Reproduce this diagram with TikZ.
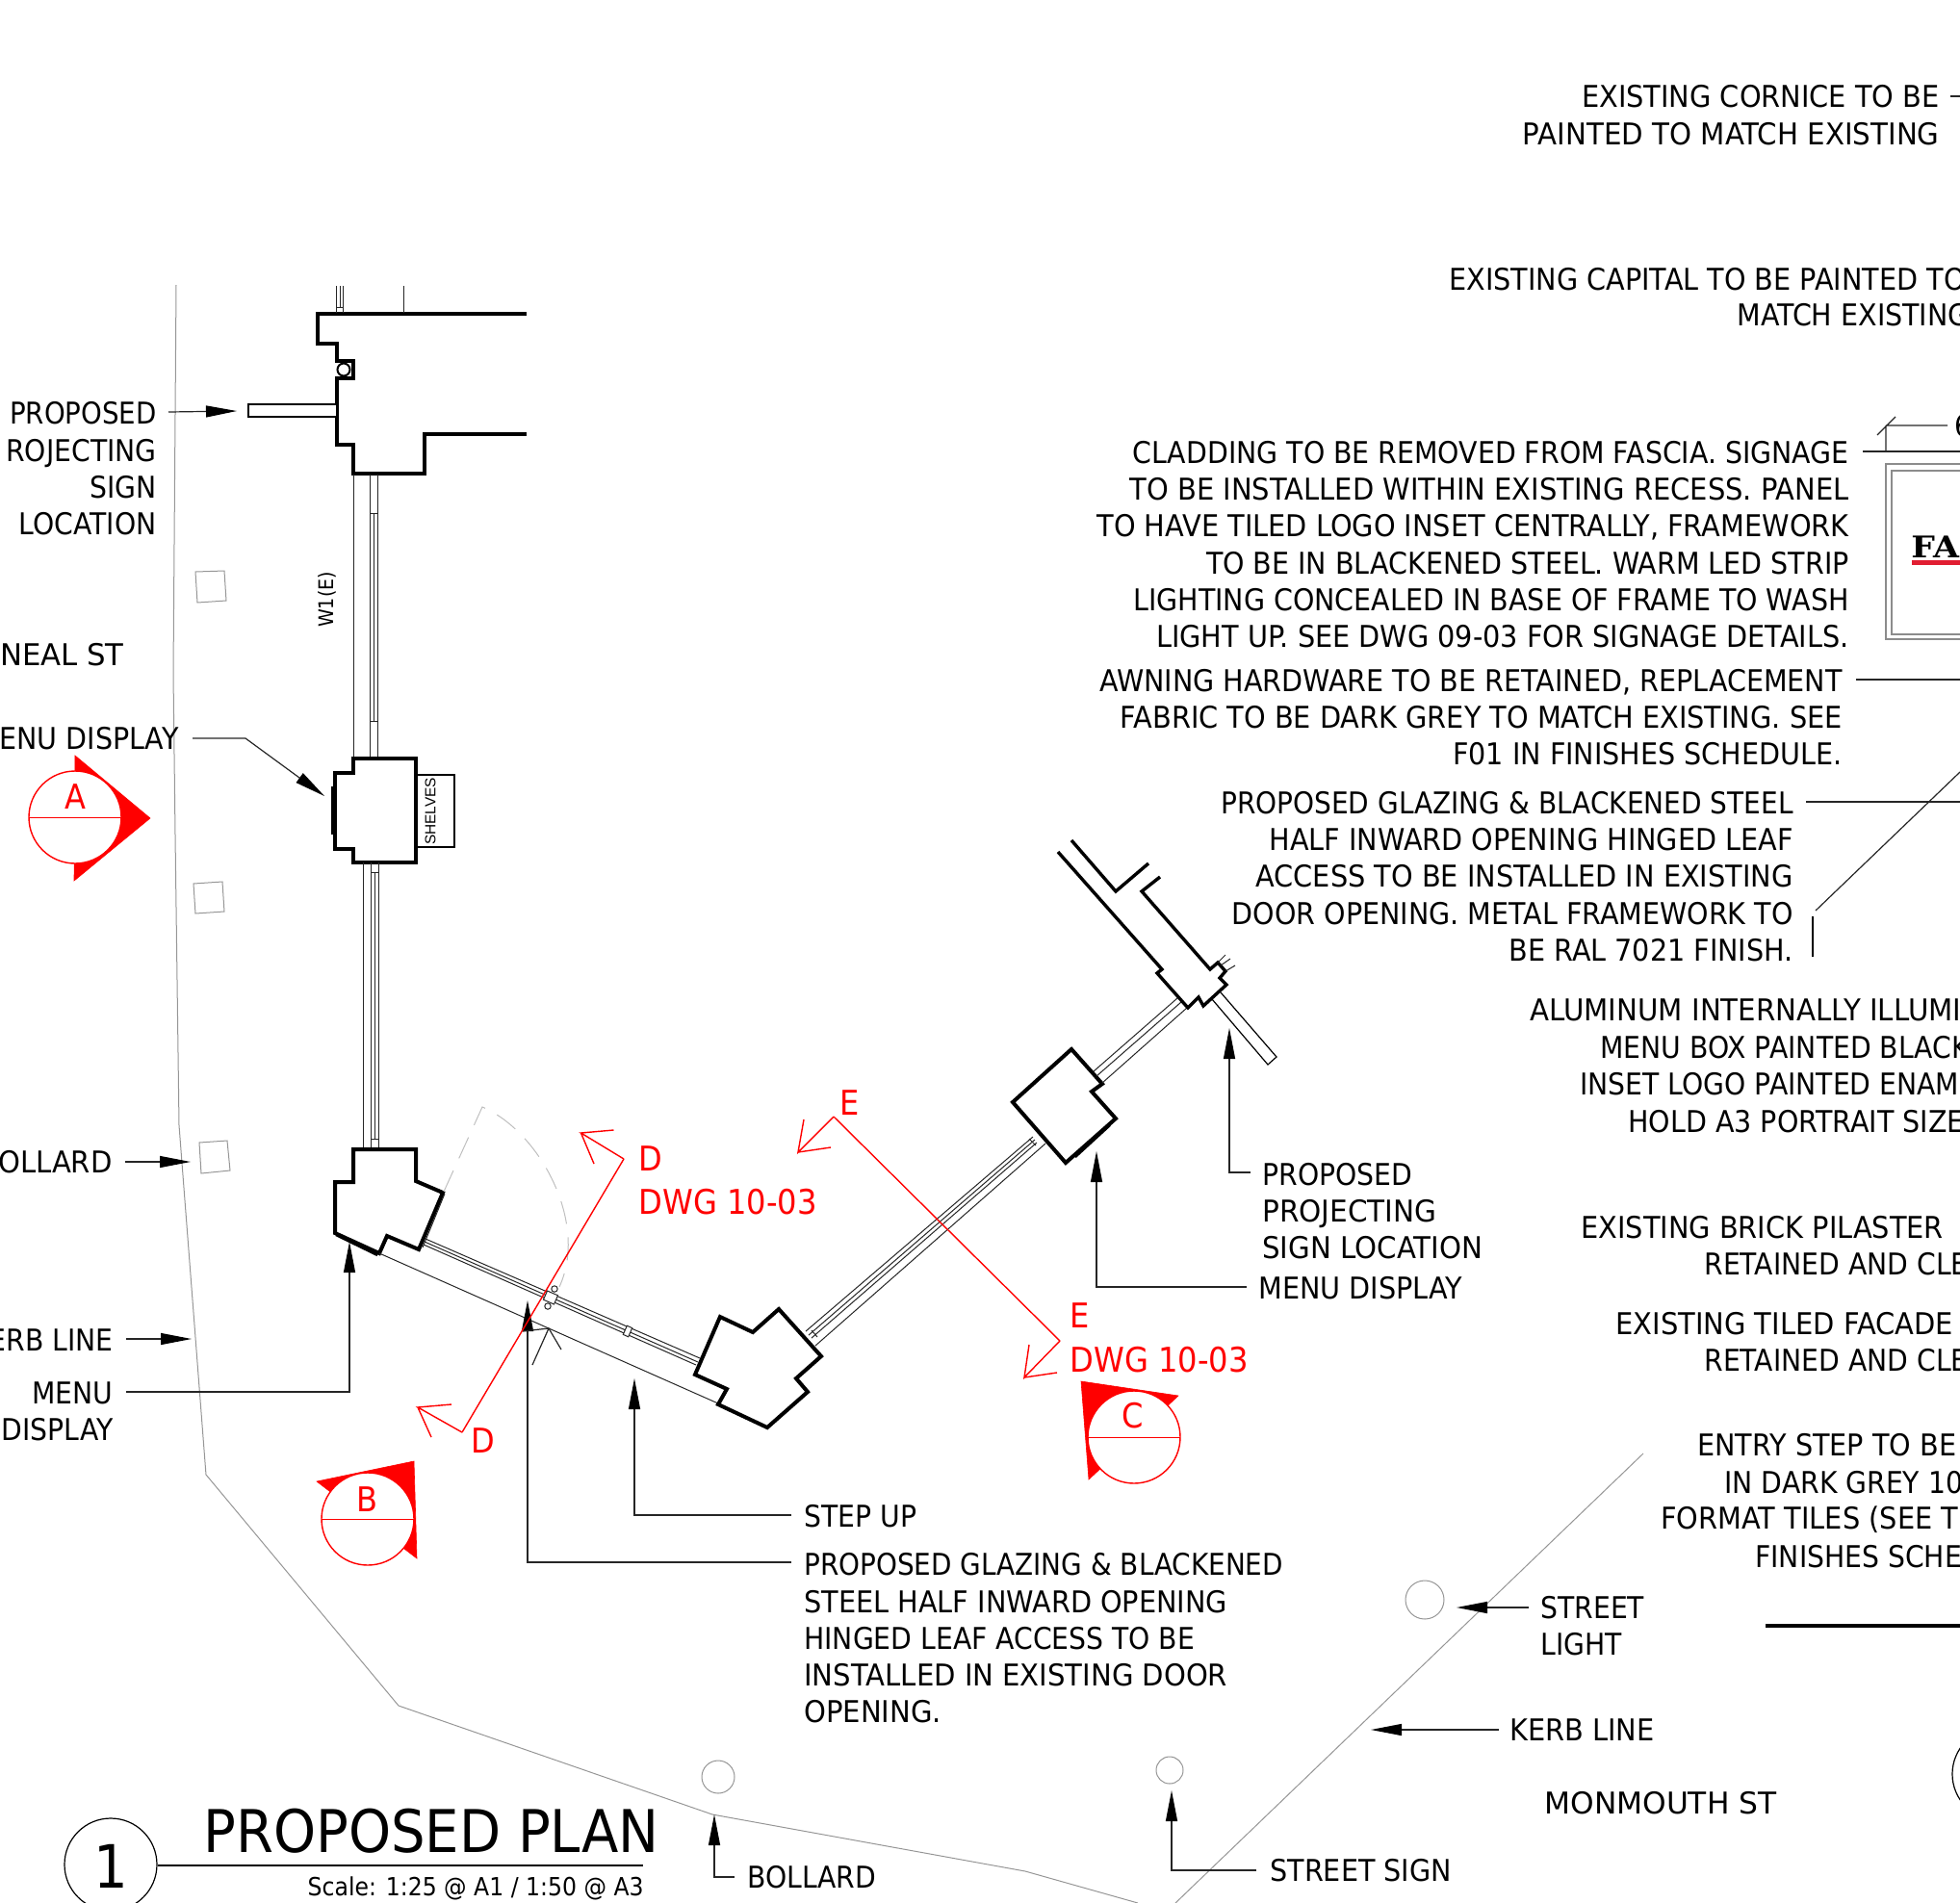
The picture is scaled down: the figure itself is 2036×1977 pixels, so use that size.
\documentclass[tikz,border=0pt]{standalone}
\usepackage{fontspec}
\setmainfont[FakeStretch=0.905]{DejaVu Sans}
\newfontfamily\arl{Liberation Sans}
\newfontfamily\lgf[FakeStretch=1.12]{DejaVu Serif}
\usetikzlibrary{arrows.meta}
\definecolor{secred}{RGB}{255,0,0}
\definecolor{kerb}{RGB}{150,150,150}
\definecolor{logored}{RGB}{225,30,50}
\newcommand\sx[2]{\scalebox{#1}[1]{#2}}
\tikzset{
  wall/.style={line width=2pt,line join=miter},
  thin/.style={line width=0.6pt},
  glaze/.style={line width=0.5pt,draw=black!85},
  kerbline/.style={line width=0.5pt,draw=kerb},
  leader/.style={line width=0.6pt,draw=black!85},
  lead/.style={leader,-{Triangle[length=16pt,width=6pt,color=black]}},
  sec/.style={line width=0.7pt,draw=secred},
  secfill/.style={fill=secred,draw=secred,line width=0.3pt},
  secbub/.style={fill=white,draw=secred,line width=0.7pt},
  lbR/.style={inner sep=0pt,anchor=east,align=right,font=\fontsize{15.6}{19.15}\selectfont},
  lbL/.style={inner sep=0pt,anchor=west,align=left,font=\fontsize{15.6}{19.15}\selectfont},
  redtx/.style={inner sep=0pt,text=secred,font=\fontsize{17.7}{21}\selectfont},
}
\begin{document}
\begin{tikzpicture}[x=0.5pt,y=-0.5pt]
\useasboundingbox (0,0) rectangle (2036,1977);
\clip (0,0) rectangle (2036,1977);
% kerbs
\draw[kerbline] (183,296) -- (180,700) -- (182,867) -- (186,1169) -- (214,1532) -- (414,1772) -- (740,1885) -- (1065,1944) -- (1182,1977);
\draw[kerbline] (1707,1510) -- (1221,1977);
% bollards, street furniture
\draw[kerbline] (203,594) -- (233,593) -- (235,624) -- (205,626) -- cycle;
\draw[kerbline] (201,918) -- (231,916) -- (233,947) -- (203,949) -- cycle;
\draw[kerbline] (207,1187) -- (236,1185) -- (239,1216) -- (209,1219) -- cycle;
\draw[kerbline] (746,1846) circle (17);
\draw[kerbline] (1215,1839) circle (14);
\draw[kerbline] (1480,1662) circle (20);
% top return wall
\draw[wall] (547,326) -- (330,326) -- (330,357) -- (350,357) -- (350,375) -- (367,375) -- (367,393) -- (350,393) -- (350,462) -- (367,462) -- (367,492) -- (441,492) -- (441,451) -- (547,451);
\draw[line width=1pt,fill=white] (357,384) circle (6.5);
\draw[thin,fill=white] (349,420) -- (258,420) -- (258,433) -- (349,433);
\draw[glaze] (349.5,297) -- (349.5,325) (353,297) -- (353,319) (356.5,297) -- (356.5,325) (349.5,319) -- (356.5,319);
\draw[glaze] (419,297) -- (419,325);
% first glazing run
\draw[glaze] (367,493) -- (367,787);
\draw[glaze] (384.5,493) -- (384.5,787) (392.5,493) -- (392.5,787) (388.5,533) -- (388.5,749) (384.5,533) -- (392.5,533) (384.5,749) -- (392.5,749);
% pier 1
\draw[wall] (367,788) -- (432,788) -- (432,896) -- (367,896) -- (367,882) -- (348,882) -- (348,803) -- (367,803) -- cycle;
\draw[line width=1.2pt] (345,817) -- (345,867);
\draw[thin] (432,805) -- (472,805) -- (472,880) -- (432,880);
\node[rotate=90,inner sep=0pt,font=\arl\fontsize{7.7}{9}\selectfont] (shelves) at (447,843) {SHELVES};
\node[rotate=90,inner sep=0pt,font=\fontsize{10.5}{12}\selectfont] (w1e) at (340,623) {W1(E)};
% second glazing run
\draw[glaze] (377.5,896) -- (377.5,1193) (385,896) -- (385,1193) (393,896) -- (393,1193) (389,906) -- (389,1183) (385,906) -- (393,906) (385,1183) -- (393,1183);
% pier 2
\draw[wall] (367,1194) -- (432,1194) -- (432,1227) -- (460,1239) -- (435,1298) -- (402,1284) -- (394,1302) -- (348,1281) -- (348,1228) -- (367,1228) -- cycle;
\draw[line width=1.2pt] (349,1283) -- (392,1304);
\draw[glaze] (462,1240) -- (439,1296);
% door swing
\draw[line width=0.5pt,draw=black!25,dash pattern=on 12pt off 7pt] (461,1238) -- (501,1150) .. controls (560,1175) and (612,1270) .. (581,1337);
% glazing on angled front
\draw[glaze] (442,1287) -- (727,1411) (441,1290) -- (725,1415) (440,1293) -- (723,1418);
\draw[glaze] (394,1302) -- (746,1458);
\draw[glaze,fill=white] (575.5,1355) -- (579.5,1345.8) -- (568.5,1341) -- (564.5,1350.2) -- cycle;
\draw[glaze,fill=white] (652.7,1388.8) -- (656.7,1379.6) -- (651.3,1377.2) -- (647.3,1386.4) -- cycle;
\draw[glaze] (576,1339) circle (3.2) (569,1357) circle (3.2);
% pier 3
\draw[wall] (748,1368) -- (782,1384) -- (809,1360) -- (853,1409) -- (827,1432) -- (839,1446) -- (797,1483) -- (746,1459) -- (755,1443) -- (722,1428) -- cycle;
\draw[glaze] (837,1383) -- (1073,1181) (840,1387) -- (1075,1184) (843,1390) -- (1077,1187) (847,1398) -- (1086,1188);
\draw[glaze] (843,1382) -- (849,1389) (1069,1183) -- (1076,1190);
% pier 4
\draw[wall] (1113,1090) -- (1145,1126) -- (1134,1134) -- (1159,1162) -- (1107,1208) -- (1052,1145) -- cycle;
\draw[line width=1.2pt] (1117,1202) -- (1153,1169);
\draw[glaze] (1136,1113) -- (1223,1037) (1139,1118) -- (1227,1041) (1145,1125) -- (1233,1047);
% top angled wall
\draw[line width=1.7pt] (1099,885) -- (1207,1007) -- (1202,1011) -- (1234,1047) -- (1245,1036) -- (1250,1045) -- (1274,1023) -- (1267,1016) -- (1273,1009) -- (1265,1000) -- (1257,1007) -- (1186,926) -- (1205,911);
\draw[line width=1.7pt] (1113,873) -- (1159,926) -- (1193,897);
\draw[glaze] (1265,1000) -- (1273,992) (1268,1003) -- (1278,996) (1273,1009) -- (1283,1003);
\draw[thin] (1259,1038) -- (1317,1106) -- (1326,1098) -- (1268,1031);
% leaders
\coordinate (a1s) at (175,428); \coordinate (a1e) at (246,427);
\coordinate (a2s) at (200,767); \coordinate (a2m) at (255,767); \coordinate (a2e) at (337,827);
\coordinate (a3s) at (130,1207); \coordinate (a3e) at (198,1207);
\coordinate (a4s) at (131,1391); \coordinate (a4e) at (199,1391);
\coordinate (a5s) at (131,1446); \coordinate (a5m) at (363,1446); \coordinate (a5e) at (363,1290);
\coordinate (a6s) at (822,1574); \coordinate (a6m) at (659,1574); \coordinate (a6e) at (659,1432);
\coordinate (a7s) at (822,1623); \coordinate (a7m) at (548,1623); \coordinate (a7e) at (548,1351);
\coordinate (a8s) at (1295,1337); \coordinate (a8m) at (1139,1337); \coordinate (a8e) at (1139,1196);
\coordinate (a9s) at (1299,1218); \coordinate (a9m) at (1277,1218); \coordinate (a9e) at (1277,1068);
\coordinate (a10s) at (763,1950); \coordinate (a10m) at (742,1950); \coordinate (a10e) at (742,1885);
\coordinate (a11s) at (1305,1943); \coordinate (a11m) at (1217,1943); \coordinate (a11e) at (1217,1860);
\coordinate (a12s) at (1588,1670); \coordinate (a12e) at (1513,1670);
\coordinate (a13s) at (1557,1797); \coordinate (a13e) at (1424,1797);
\draw[lead] (a1s) -- (a1e);
\draw[lead] (a2s) -- (a2m) -- (a2e);
\draw[lead] (a3s) -- (a3e);
\draw[lead] (a4s) -- (a4e);
\draw[lead] (a5s) -- (a5m) -- (a5e);
\draw[lead] (a6s) -- (a6m) -- (a6e);
\draw[lead] (a7s) -- (a7m) -- (a7e);
\draw[lead] (a8s) -- (a8m) -- (a8e);
\draw[lead] (a9s) -- (a9m) -- (a9e);
\draw[lead] (a10s) -- (a10m) -- (a10e);
\draw[lead] (a11s) -- (a11m) -- (a11e);
\draw[lead] (a12s) -- (a12e);
\draw[lead] (a13s) -- (a13e);
% small open arrow at the step
\draw[leader] (543,1383) -- (570,1380) (553,1418) -- (570,1380) -- (583,1402);
% right-hand leaders
\draw[leader] (2026,100) -- (2036,100);
\draw[leader] (1935,469) -- (2036,469);
\draw[leader] (1928,706) -- (2036,706);
\draw[leader] (1876,833) -- (2036,833);
\draw[leader] (1886,946) -- (2036,802);
\draw[line width=1pt] (1883,952) -- (1883,994);
\draw[leader] (1959,442) -- (1959,469) (1959,442) -- (2023,442) (1950,452) -- (1969,433);
\draw[line width=1.7pt] (1834,1689) -- (2036,1689);
\draw[thin] (2076,1843) circle (48);
% sign elevation
\draw[line width=0.8pt,draw=black!45] (2036,482) -- (1959,482) -- (1959,664) -- (2036,664);
\draw[line width=0.8pt,draw=black!45] (2036,489) -- (1965,489) -- (1965,659) -- (2036,659);
\node[inner sep=0pt,anchor=base west,font=\lgf\bfseries\fontsize{15.5}{18}\selectfont] (logo) at (1985,579) {FAI};
\fill[logored] (1986,582) rectangle (2036,587);
\node[inner sep=0pt,anchor=west,font=\fontsize{15.6}{19}\selectfont] (dim) at (2030,442) {6};
% section A
\fill[secfill] (78,785) -- (156,850) -- (77,915) -- cycle;
\draw[secbub] (78,849) circle (48);
\draw[sec] (30,849.5) -- (126,849.5);
\node[redtx] (secA) at (78,828) {A};
% section B
\fill[secfill] (329,1539) -- (430,1518) -- (433,1619) -- cycle;
\draw[secbub] (382,1578) circle (48);
\draw[sec] (334,1578.5) -- (430,1578.5);
\node[redtx] (secB) at (381.5,1558) {B};
% section C
\fill[secfill] (1123,1435) -- (1224,1450) -- (1131,1537) -- cycle;
\draw[secbub] (1178,1493) circle (48);
\draw[sec] (1130,1493.5) -- (1226,1493.5);
\node[redtx] (secC) at (1177,1471) {C};
% section D
\draw[sec] (648,1204) -- (480,1488);
\draw[sec] (648,1204) -- (603.5,1177) -- (637.5,1174) (603.5,1177) -- (617,1209);
\draw[sec] (480,1488) -- (434,1462) -- (469,1459) (434,1462) -- (448,1493);
\node[redtx,anchor=west] (secD1) at (663,1204) {D};
\node[redtx,anchor=west] (secD2) at (663,1249) {\sx{1.005}{DWG 10-03}};
\node[redtx] (secD3) at (502,1497) {D};
% section E
\draw[sec] (866,1160) -- (1101,1393);
\draw[sec] (866,1160) -- (829,1197) -- (835,1163) (829,1197) -- (863,1192);
\draw[sec] (1101,1393) -- (1064,1431) -- (1069,1397) (1064,1431) -- (1098,1426);
\node[redtx] (secE1) at (883,1146) {E};
\node[redtx] (secE2) at (1122,1367) {E};
\node[redtx,anchor=west] (secE3) at (1111,1413) {\sx{1.005}{DWG 10-03}};
% text: upper right
\node[lbR] (t1) at (2015,119.5) {\sx{1.02}{EXISTING CORNICE TO BE}\\\sx{1.037}{PAINTED TO MATCH EXISTING}};
\node[lbL] (t2a) at (1505,290) {\sx{1.015}{EXISTING CAPITAL TO BE PAINTED TO}};
\node[lbL] (t2b) at (1804,327) {\sx{1.01}{MATCH EXISTING}};
\node[lbR] (t3) at (1921,565.5) {\sx{1.005}{CLADDING TO BE REMOVED FROM FASCIA. SIGNAGE}\\\sx{1.025}{TO BE INSTALLED WITHIN EXISTING RECESS. PANEL}\\\sx{1.02}{TO HAVE TILED LOGO INSET CENTRALLY, FRAMEWORK}\\\sx{1.01}{TO BE IN BLACKENED STEEL. WARM LED STRIP}\\\sx{1.009}{LIGHTING CONCEALED IN BASE OF FRAME TO WASH}\\\sx{1.017}{LIGHT UP. SEE DWG 09-03 FOR SIGNAGE DETAILS.}};
\node[lbR] (t4) at (1914,745) {\sx{1.012}{AWNING HARDWARE TO BE RETAINED, REPLACEMENT}\\\sx{1.019}{FABRIC TO BE DARK GREY TO MATCH EXISTING. SEE}\\\sx{1.013}{F01 IN FINISHES SCHEDULE.}};
\node[lbR] (t5) at (1863,910.5) {\sx{0.991}{PROPOSED GLAZING \& BLACKENED STEEL}\\\sx{1.015}{HALF INWARD OPENING HINGED LEAF}\\\sx{1.019}{ACCESS TO BE INSTALLED IN EXISTING}\\\sx{1.011}{DOOR OPENING. METAL FRAMEWORK TO}\\\sx{1.013}{BE RAL 7021 FINISH.}};
\node[lbL] (t6a) at (1589,1049) {\sx{1.036}{ALUMINUM INTERNALLY ILLUMI}};
\node[lbL] (t6b) at (1662,1088) {MENU BOX PAINTED BLACK};
\node[lbL] (t6c) at (1641,1126) {INSET LOGO PAINTED ENAM};
\node[lbL] (t6d) at (1691,1165) {\sx{1.01}{HOLD A3 PORTRAIT SIZE}};
\node[lbL] (t7a) at (1642,1275) {\sx{1.02}{EXISTING BRICK PILASTER}};
\node[lbL] (t7b) at (1770,1313) {RETAINED AND CLE};
\node[lbL] (t8a) at (1678,1375) {\sx{1.025}{EXISTING TILED FACADE}};
\node[lbL] (t8b) at (1770,1413) {RETAINED AND CLE};
\node[lbL] (t9a) at (1763,1501) {\sx{1.015}{ENTRY STEP TO BE}};
\node[lbL] (t9b) at (1791,1540) {IN DARK GREY 10};
\node[lbL] (t9c) at (1725,1579) {\sx{1.02}{FORMAT TILES (SEE T}};
\node[lbL] (t9d) at (1823,1617) {FINISHES SCHE};
% text: left
\node[lbR] (l1) at (163,487) {\sx{0.98}{PROPOSED}\\ROJECTING\\SIGN\\LOCATION};
\node[lbR] (l2) at (129,680) {\sx{1.088}{NEAL ST}};
\node[lbR] (l3) at (186,767) {\sx{1.01}{MENU DISPLAY}};
\node[lbR] (l4) at (117,1207) {\sx{1.03}{BOLLARD}};
\node[lbR] (l5) at (118,1392) {KERB LINE};
\node[lbR] (l6) at (118,1466.5) {MENU\\DISPLAY};
% text: lower
\node[lbL] (b1) at (1311,1258) {PROPOSED\\\sx{1.045}{PROJECTING}\\\sx{1.035}{SIGN LOCATION}};
\node[lbL] (b2) at (1307,1338) {\sx{1.015}{MENU DISPLAY}};
\node[lbL] (b3) at (835,1575) {STEP UP};
\node[lbL] (b4) at (835,1702) {\sx{0.987}{PROPOSED GLAZING \& BLACKENED}\\\sx{1.018}{STEEL HALF INWARD OPENING}\\HINGED LEAF ACCESS TO BE\\\sx{1.03}{INSTALLED IN EXISTING DOOR}\\\sx{1.03}{OPENING.}};
\node[lbL] (b5) at (776,1950) {BOLLARD};
\node[lbL] (b6) at (1319,1943) {\sx{1.013}{STREET SIGN}};
\node[lbL] (b7) at (1600,1689) {STREET\\LIGHT};
\node[lbL] (b8) at (1568,1797) {\sx{1.02}{KERB LINE}};
\node[lbL] (b9) at (1604,1873) {\sx{1.108}{MONMOUTH ST}};
% title
\draw[thin] (115,1937) circle (48);
\draw[line width=0.8pt] (164,1938) -- (668,1938);
\node[inner sep=0pt,font=\fontsize{31}{34}\selectfont] (num) at (115,1939) {1};
\node[inner sep=0pt,anchor=west,font=\fontsize{30.6}{34}\selectfont] (title) at (211,1902) {\sx{1.012}{PROPOSED PLAN}};
\node[inner sep=0pt,anchor=east,font=\fontsize{13}{16}\selectfont] (scale) at (669,1962) {Scale: 1:25 @ A1 / 1:50 @ A3};
\end{tikzpicture}
\end{document}
